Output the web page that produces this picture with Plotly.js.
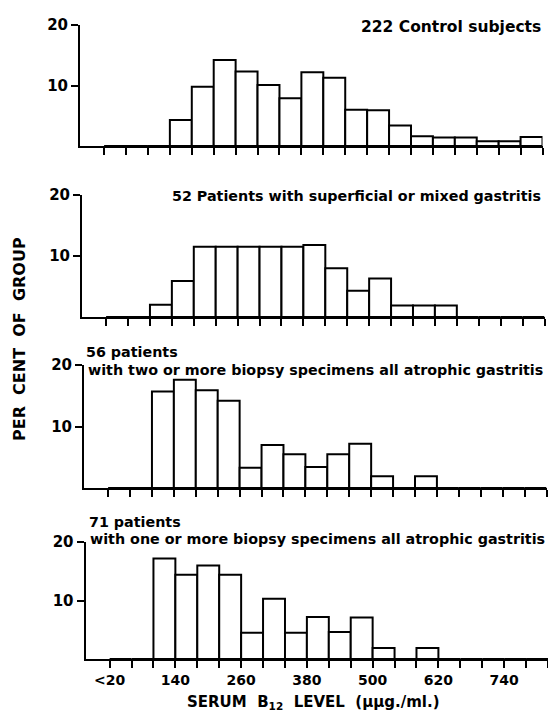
<!DOCTYPE html>
<html>
<head>
<meta charset="utf-8">
<script src="https://cdn.plot.ly/plotly-3.0.1.min.js"></script>
<style>html,body{margin:0;padding:0;background:#fff;}#chart{width:548px;height:715px;}</style>
</head>
<body>
<div id="chart"></div>
<script>
// ---- data ----
const binStart = [20, 60, 100, 140, 180, 220, 260, 300, 340, 380, 420, 460, 500, 540, 580, 620, 660, 700, 740, 780];
const controlSubjects = [0, 0, 0, 4.3, 9.8, 14.2, 12.3, 10.1, 7.9, 12.2, 11.3, 6.0, 5.9, 3.4, 1.6, 1.4, 1.4, 0.8, 0.8, 1.5];
const superficialGastritis = [0, 0, 2.0, 5.9, 11.5, 11.5, 11.5, 11.5, 11.5, 11.8, 8.0, 4.3, 6.3, 1.9, 1.9, 1.9, 0, 0, 0, 0];
const atrophicTwoOrMore = [0, 0, 15.7, 17.6, 15.9, 14.2, 3.3, 7.0, 5.5, 3.4, 5.5, 7.2, 1.9, 0, 1.9, 0, 0, 0, 0, 0];
const atrophicOneOrMore = [0, 0, 17.2, 14.4, 16.0, 14.4, 4.5, 10.3, 4.5, 7.2, 4.6, 7.1, 1.9, 0, 1.9, 0, 0, 0, 0, 0];
const binWidth = 40;
const xTickVals = [20, 60, 100, 140, 180, 220, 260, 300, 340, 380, 420, 460, 500, 540, 580, 620, 660, 700, 740, 780, 820];
const xTickText = ['<20', '', '', '140', '', '', '260', '', '', '380', '', '', '500', '', '', '620', '', '', '740', '', ''];
const yTickVals = [10, 20];
const yTickText = ['10', '20'];
const captions = [
  ['222 Control subjects'],
  ['52 Patients with superficial or mixed gastritis'],
  ['56 patients', 'with two or more biopsy specimens all atrophic gastritis'],
  ['71 patients', 'with one or more biopsy specimens all atrophic gastritis']
];
const series = [controlSubjects, superficialGastritis, atrophicTwoOrMore, atrophicOneOrMore];

// ---- layout geometry (pixels) ----
const W = 548, H = 715;
const FONT = 'DejaVu Sans';
const xRange = [-24, 820];
const pxPerUnit = 0.548;
const panels = [
  {left: 80, top: 25, bottom: 146},
  {left: 82, top: 195, bottom: 317},
  {left: 84, top: 365, bottom: 488},
  {left: 85.5, top: 542, bottom: 659}
];
const fx = px => px / W;
const fy = py => 1 - py / H;

const data = [];
const layout = {
  width: W, height: H,
  margin: {l: 0, r: 0, t: 0, b: 0},
  paper_bgcolor: '#fff', plot_bgcolor: 'rgba(0,0,0,0)',
  showlegend: false,
  annotations: [],
  font: {family: FONT, color: '#000'}
};

panels.forEach((p, i) => {
  const n = i + 1;
  const sfx = n === 1 ? '' : String(n);
  const right = Math.min(W, p.left + (xRange[1] - xRange[0]) * pxPerUnit);
  data.push({
    type: 'bar',
    x: binStart, y: series[i],
    offset: 0, width: binWidth,
    xaxis: 'x' + sfx, yaxis: 'y' + sfx,
    marker: {color: '#fff', line: {color: '#000', width: 2}},
    hoverinfo: 'skip'
  });
  layout['xaxis' + sfx] = {
    domain: [fx(p.left), fx(right)],
    anchor: 'y' + sfx,
    range: xRange,
    showline: true, linecolor: '#000', linewidth: 2,
    showgrid: false, zeroline: false,
    ticks: 'outside', ticklen: 7, tickwidth: 2, tickcolor: '#000',
    tickmode: 'array', tickvals: xTickVals,
    ticktext: n === 4 ? xTickText : xTickVals.map(() => ''),
    showticklabels: n === 4,
    tickfont: {family: FONT, size: 14, weight: 700, color: '#000'},
    fixedrange: true
  };
  layout['yaxis' + sfx] = {
    domain: [fy(p.bottom), fy(p.top)],
    anchor: 'x' + sfx,
    range: [0, 20],
    showline: true, linecolor: '#000', linewidth: 2,
    showgrid: false, zeroline: false,
    ticks: 'outside', ticklen: 7, tickwidth: 2, tickcolor: '#000',
    tickmode: 'array', tickvals: yTickVals, ticktext: yTickText,
    tickfont: {family: FONT, size: 15, weight: 700, color: '#000'},
    fixedrange: true
  };
});

const capFont = {family: FONT, size: 14.3, weight: 700, color: '#000'};
// one-line captions, right aligned
layout.annotations.push({xref: 'paper', yref: 'paper', x: fx(543), y: fy(27), xanchor: 'right', yanchor: 'middle', text: captions[0][0], showarrow: false, font: {family: FONT, size: 15.5, weight: 700, color: '#000'}});
layout.annotations.push({xref: 'paper', yref: 'paper', x: fx(543), y: fy(196), xanchor: 'right', yanchor: 'middle', text: captions[1][0], showarrow: false, font: capFont});
// two-line captions, left aligned
layout.annotations.push({xref: 'paper', yref: 'paper', x: fx(84), y: fy(352), xanchor: 'left', yanchor: 'middle', text: captions[2][0], showarrow: false, font: capFont});
layout.annotations.push({xref: 'paper', yref: 'paper', x: fx(86), y: fy(370), xanchor: 'left', yanchor: 'middle', text: captions[2][1], showarrow: false, font: capFont});
layout.annotations.push({xref: 'paper', yref: 'paper', x: fx(87), y: fy(522), xanchor: 'left', yanchor: 'middle', text: captions[3][0], showarrow: false, font: capFont});
layout.annotations.push({xref: 'paper', yref: 'paper', x: fx(88), y: fy(539), xanchor: 'left', yanchor: 'middle', text: captions[3][1], showarrow: false, font: capFont});
// axis titles
const NB = '\u00a0';
layout.annotations.push({xref: 'paper', yref: 'paper', x: fx(19), y: fy(339), xanchor: 'center', yanchor: 'middle', textangle: -90,
  text: 'PER' + NB + NB + 'CENT' + NB + NB + 'OF' + NB + NB + 'GROUP', showarrow: false, font: {family: FONT, size: 16, weight: 700, color: '#000'}});
layout.annotations.push({xref: 'paper', yref: 'paper', x: fx(313), y: fy(702), xanchor: 'center', yanchor: 'middle',
  text: 'SERUM' + NB + NB + 'B<sub>12</sub>' + NB + NB + 'LEVEL' + NB + NB + '(\u03bc\u03bcg./ml.)', showarrow: false, font: {family: FONT, size: 15, weight: 700, color: '#000'}});

Plotly.newPlot('chart', data, layout, {staticPlot: true, displayModeBar: false});
</script>
</body>
</html>
